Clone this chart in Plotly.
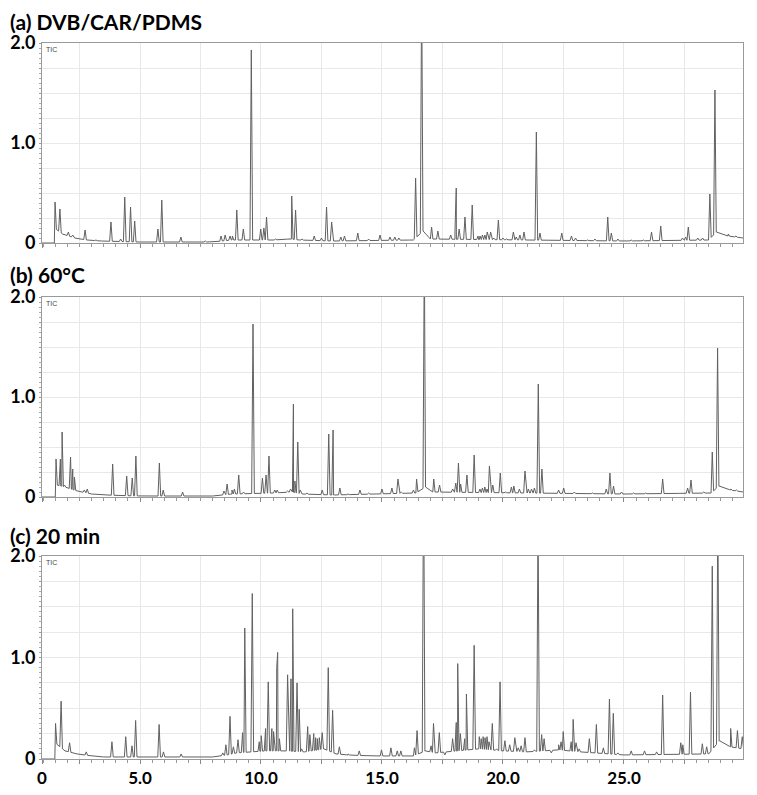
import numpy as np
import plotly.graph_objects as go

# ---------------- data (retention time in min, TIC intensity) ----------------
panel_titles = ["(a) DVB/CAR/PDMS", "(b) 60\u00b0C", "(c) 20 min"]

a_peak_t = [1.49, 1.69, 2.04, 2.22, 2.73, 3.18, 3.80, 4.20, 4.37, 4.61, 4.78, 5.74, 5.90, 6.69, 7.70,
            8.35, 8.52, 8.72, 8.82, 9.00, 9.27, 9.60, 9.99, 10.12, 10.23, 10.60, 11.05, 11.27, 11.31,
            11.43, 11.70, 12.20, 12.50, 12.71, 12.92, 13.30, 13.45, 14.00, 14.45, 14.92, 15.33, 15.53,
            15.70, 16.20, 16.39, 16.64, 16.90, 17.05, 17.31, 17.84, 18.02, 18.07, 18.19, 18.43, 18.73,
            18.97, 19.05, 19.15, 19.25, 19.35, 19.49, 19.62, 19.81, 20.00, 20.15, 20.43, 20.55, 20.70,
            20.87, 21.38, 21.53, 21.90, 22.43, 22.83, 23.00, 23.50, 23.80, 24.33, 24.48, 24.75, 25.30,
            25.80, 26.14, 26.52, 27.00, 27.42, 27.55, 27.66, 28.05, 28.25, 28.55, 28.76, 29.31, 29.63,
            29.80]
a_peak_h = [0.41, 0.34, 0.11, 0.08, 0.13, 0.03, 0.21, 0.04, 0.46, 0.36, 0.22, 0.14, 0.43, 0.06, 0.02,
            0.07, 0.08, 0.07, 0.07, 0.33, 0.14, 1.93, 0.14, 0.15, 0.26, 0.04, 0.04, 0.47, 0.13,
            0.33, 0.04, 0.07, 0.05, 0.36, 0.21, 0.06, 0.07, 0.10, 0.04, 0.08, 0.06, 0.06,
            0.05, 0.03, 0.65, 2.60, 0.06, 0.16, 0.12, 0.08, 0.15, 0.55, 0.14, 0.26, 0.38,
            0.07, 0.07, 0.08, 0.08, 0.11, 0.11, 0.05, 0.23, 0.05, 0.04, 0.11, 0.06, 0.08,
            0.11, 1.11, 0.10, 0.03, 0.10, 0.07, 0.05, 0.03, 0.04, 0.26, 0.10, 0.04, 0.03,
            0.03, 0.11, 0.17, 0.03, 0.05, 0.06, 0.16, 0.05, 0.05, 0.49, 1.53, 0.09, 0.07,
            0.06]
a_base_t = [0.95, 1.46, 1.52, 1.8, 2.3, 2.8, 3.4, 5.0, 8.0, 8.8, 10.5, 11.2, 11.6, 13.0, 16.3, 16.7,
            17.0, 21.0, 25.0, 28.5, 28.82, 29.3, 29.92]
a_base_h = [0.0, 0.0, 0.14, 0.09, 0.05, 0.03, 0.02, 0.01, 0.01, 0.03, 0.03, 0.04, 0.03, 0.02, 0.03, 0.12,
            0.04, 0.03, 0.02, 0.03, 0.11, 0.07, 0.05]

b_peak_t = [1.53, 1.71, 1.78, 1.88, 2.13, 2.22, 2.29, 2.70, 2.82, 3.87, 4.45, 4.68, 4.83, 5.80, 5.96,
            6.76, 8.47, 8.60, 8.80, 8.90, 9.08, 9.28, 9.67, 10.06, 10.21, 10.33, 10.57, 10.67, 11.10,
            11.22, 11.34, 11.40, 11.52, 11.62, 11.90, 12.53, 12.80, 12.98, 13.26, 13.60, 14.09, 14.45,
            15.00, 15.41, 15.66, 15.80, 16.30, 16.43, 16.75, 17.00, 17.14, 17.38, 17.92, 18.05, 18.16,
            18.25, 18.51, 18.81, 19.05, 19.15, 19.25, 19.34, 19.44, 19.58, 19.89, 20.10, 20.35, 20.45,
            20.68, 20.91, 21.05, 21.18, 21.30, 21.46, 21.61, 22.30, 22.51, 22.95, 23.40, 23.70, 24.27,
            24.42, 24.57, 24.90, 25.40, 25.90, 26.25, 26.60, 27.30, 27.63, 27.77, 28.30, 28.65, 28.87,
            29.42, 29.65, 29.85]
b_peak_h = [0.38, 0.38, 0.65, 0.12, 0.40, 0.28, 0.20, 0.07, 0.08, 0.33, 0.21, 0.19, 0.41, 0.34, 0.07,
            0.05, 0.06, 0.13, 0.07, 0.08, 0.22, 0.05, 1.73, 0.19, 0.22, 0.41, 0.07, 0.07, 0.06,
            0.08, 0.93, 0.16, 0.55, 0.07, 0.04, 0.07, 0.63, 0.67, 0.09, 0.03, 0.07, 0.04,
            0.08, 0.09, 0.18, 0.05, 0.07, 0.18, 2.50, 0.07, 0.18, 0.12, 0.08, 0.14, 0.34,
            0.13, 0.22, 0.42, 0.08, 0.09, 0.10, 0.08, 0.31, 0.12, 0.24, 0.05, 0.10, 0.11,
            0.08, 0.26, 0.08, 0.08, 0.09, 1.13, 0.28, 0.07, 0.09, 0.05, 0.03, 0.04, 0.08,
            0.24, 0.11, 0.05, 0.04, 0.04, 0.04, 0.18, 0.04, 0.09, 0.17, 0.05, 0.45, 1.49,
            0.08, 0.07, 0.06]
b_base_t = [0.95, 1.50, 1.56, 1.9, 2.4, 3.0, 3.5, 5.0, 8.0, 8.8, 10.5, 11.3, 11.7, 13.0, 16.4, 16.8,
            17.1, 21.0, 25.0, 28.6, 28.93, 29.4, 29.92]
b_base_h = [0.0, 0.0, 0.12, 0.10, 0.06, 0.03, 0.02, 0.01, 0.01, 0.03, 0.04, 0.05, 0.03, 0.02, 0.04, 0.10,
            0.05, 0.04, 0.03, 0.04, 0.11, 0.07, 0.05]

c_peak_t = [1.51, 1.74, 2.09, 2.25, 2.78, 3.84, 4.41, 4.67, 4.82, 5.79, 5.97, 6.70, 7.70, 8.42, 8.55,
            8.72, 8.86, 9.05, 9.24, 9.33, 9.64, 9.93, 10.01, 10.19, 10.30, 10.45, 10.52, 10.65, 10.69,
            10.76, 10.98, 11.10, 11.24, 11.31, 11.36, 11.49, 11.58, 11.68, 11.93, 12.02, 12.18, 12.26,
            12.33, 12.41, 12.53, 12.78, 12.96, 13.24, 13.60, 14.06, 14.40, 14.98, 15.37, 15.63, 15.78,
            16.34, 16.45, 16.72, 17.03, 17.13, 17.37, 17.60, 17.92, 18.07, 18.13, 18.24, 18.42, 18.49,
            18.81, 19.02, 19.10, 19.18, 19.26, 19.34, 19.42, 19.56, 19.74, 19.88, 20.08, 20.28, 20.49,
            20.63, 20.75, 20.91, 21.30, 21.45, 21.60, 21.70, 22.00, 22.30, 22.40, 22.49, 22.82, 22.90,
            23.02, 23.15, 23.57, 23.86, 24.15, 24.40, 24.56, 24.75, 25.30, 25.85, 26.35, 26.60, 27.10,
            27.35, 27.43, 27.75, 28.24, 28.42, 28.65, 28.88, 29.41, 29.69, 29.89]
c_peak_h = [0.35, 0.57, 0.16, 0.06, 0.07, 0.17, 0.22, 0.13, 0.38, 0.34, 0.07, 0.05, 0.02, 0.06, 0.14,
            0.42, 0.12, 0.19, 0.26, 1.29, 1.63, 0.17, 0.23, 0.30, 0.76, 0.30, 0.27, 0.90, 1.05,
            0.20, 0.08, 0.83, 0.79, 1.48, 0.32, 0.75, 0.49, 0.10, 0.32, 0.24, 0.25, 0.21,
            0.20, 0.21, 0.26, 0.90, 0.48, 0.12, 0.05, 0.08, 0.03, 0.09, 0.11, 0.08, 0.08,
            0.11, 0.28, 3.00, 0.13, 0.35, 0.26, 0.04, 0.20, 0.36, 0.94, 0.25, 0.20, 0.64,
            1.12, 0.22, 0.20, 0.22, 0.21, 0.22, 0.17, 0.35, 0.10, 0.76, 0.18, 0.14, 0.21,
            0.11, 0.13, 0.21, 0.09, 2.40, 0.24, 0.20, 0.06, 0.14, 0.17, 0.27, 0.17, 0.39,
            0.16, 0.10, 0.20, 0.34, 0.11, 0.59, 0.45, 0.06, 0.08, 0.08, 0.07, 0.63, 0.05,
            0.16, 0.14, 0.66, 0.15, 0.12, 1.90, 2.50, 0.30, 0.28, 0.22]
c_base_t = [0.95, 1.48, 1.54, 1.9, 2.4, 3.0, 3.5, 5.0, 8.0, 8.6, 9.0, 10.2, 11.0, 11.8, 12.6, 13.1,
            13.6, 14.5, 16.3, 16.8, 17.2, 19.0, 20.0, 21.0, 22.3, 23.2, 25.0, 28.5, 28.95, 29.4, 29.92]
c_base_h = [0.0, 0.0, 0.15, 0.08, 0.05, 0.03, 0.02, 0.02, 0.02, 0.04, 0.06, 0.08, 0.08, 0.07, 0.10, 0.05,
            0.04, 0.03, 0.03, 0.08, 0.06, 0.10, 0.08, 0.07, 0.09, 0.07, 0.04, 0.05, 0.18, 0.12, 0.10]

x_tick_vals = [0.95, 2.5, 5.0, 7.5, 10.0, 12.5, 15.0, 17.5, 20.0, 22.5, 25.0, 27.5]
x_tick_text = ["0", "", "5.0", "", "10.0", "", "15.0", "", "20.0", "", "25.0", ""]
y_tick_vals = [0, 0.25, 0.5, 0.75, 1.0, 1.25, 1.5, 1.75, 2.0]
y_tick_text = ["0", "", "", "", "1.0", "", "", "", "2.0"]

panels = [
    (a_peak_t, a_peak_h, a_base_t, a_base_h),
    (b_peak_t, b_peak_h, b_base_t, b_base_h),
    (c_peak_t, c_peak_h, c_base_t, c_base_h),
]

# ---------------- build figure ----------------
def trace_points(pt, ph, bt, bh, w=0.055):
    pts = list(zip(bt, bh))
    for t, h in zip(pt, ph):
        for tt in (t - w, t + w):
            pts.append((tt, float(np.interp(tt, bt, bh))))
        pts.append((t, h))
    pts.sort(key=lambda p: p[0])
    return [p[0] for p in pts], [p[1] for p in pts]

# the page adds an 8 px body margin, so the figure is sized to fit the window
W, H = 749, 787
ml, mr, mt, mb = 34, 14, 35, 36
plot_w = W - ml - mr
plot_h = H - mt - mb
rows_px = [(35, 235), (289, 489), (548, 751)]   # figure pixel rows (top, bottom)
title_px = [14, 266, 527]

def py(ypx):
    return (H - mb - ypx) / plot_h

fig = go.Figure()
font_fam = "Lato, Carlito, 'Open Sans', sans-serif"

for i, (pt, ph, bt, bh) in enumerate(panels):
    xs, ys = trace_points(pt, ph, bt, bh)
    sfx = "" if i == 0 else str(i + 1)
    fig.add_trace(go.Scatter(x=xs, y=ys, mode="lines",
                             line=dict(color="#616161", width=1),
                             xaxis="x" + sfx, yaxis="y" + sfx,
                             showlegend=False, hoverinfo="skip"))
    top, bot = rows_px[i]
    fig.layout["xaxis" + sfx] = dict(
        domain=[0, 1], anchor="y" + sfx, range=[0.95, 29.92], automargin=False,
        tickvals=x_tick_vals, ticktext=x_tick_text,
        showticklabels=(i == 2),
        tickfont=dict(family=font_fam, size=17, color="black", weight="bold"),
        ticks="outside", ticklen=4, tickcolor="#888",
        minor=dict(dtick=0.5, tick0=0, ticks="outside", ticklen=3, tickcolor="#999", showgrid=False),
        showgrid=True, gridcolor="#e8e8e8", gridwidth=1,
        showline=True, linecolor="#9a9a9a", linewidth=1, mirror=True,
        zeroline=False, fixedrange=True)
    fig.layout["yaxis" + sfx] = dict(
        domain=[py(bot), py(top)], anchor="x" + sfx, range=[0, 2.0], automargin=False,
        tickvals=y_tick_vals, ticktext=y_tick_text,
        tickfont=dict(family=font_fam, size=18, color="black", weight="bold"),
        ticks="outside", ticklen=2, tickcolor="#999",
        minor=dict(dtick=0.05, tick0=0, ticks="outside", ticklen=2, tickcolor="#aaa", showgrid=False),
        showgrid=True, gridcolor="#e8e8e8", gridwidth=1,
        showline=True, linecolor="#9a9a9a", linewidth=1, mirror=True,
        zeroline=False, fixedrange=True)
    fig.add_annotation(text="<b>" + panel_titles[i] + "</b>", xref="paper", yref="paper",
                       x=(1 - ml) / plot_w, y=py(title_px[i]), xanchor="left", yanchor="middle",
                       showarrow=False, borderpad=0,
                       font=dict(family=font_fam, size=21, color="black"))
    fig.add_annotation(text="TIC", xref="paper", yref="paper",
                       x=0.003, y=py(top + 1), xanchor="left", yanchor="top",
                       showarrow=False, font=dict(family="Liberation Sans, sans-serif", size=7, color="#444"))

fig.update_layout(width=W, height=H, margin=dict(l=ml, r=mr, t=mt, b=mb, autoexpand=False),
                  paper_bgcolor="white", plot_bgcolor="white")

fig.write_html("out.html")
